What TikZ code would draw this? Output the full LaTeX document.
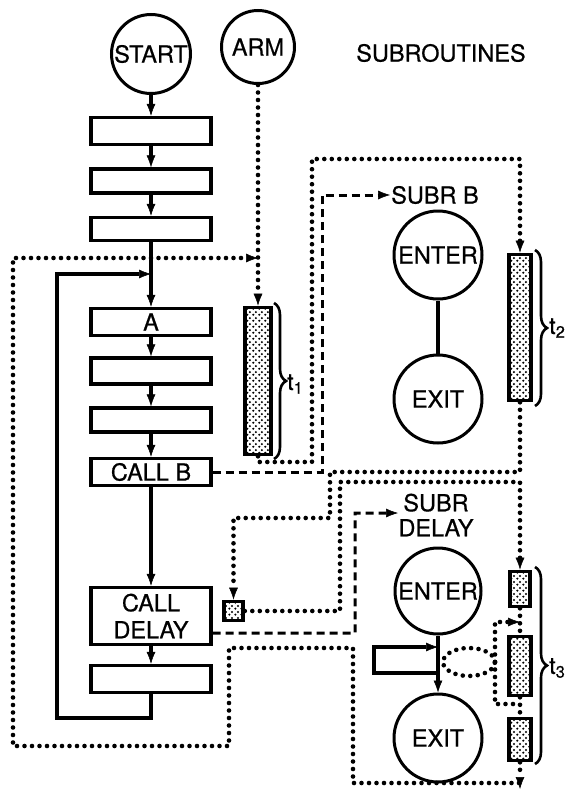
\documentclass[tikz,border=0pt]{standalone}
\usepackage{fontspec}
\setmainfont[FakeBold=0.6,AutoFakeBold=0.6]{TeX Gyre Heros}
\usetikzlibrary{arrows.meta,patterns.meta,decorations.pathreplacing,shapes.geometric,calc}

\tikzdeclarepattern{
  name=bigdots, type=uncolored,
  bounding box={(0pt,0pt) and (6pt,6pt)},
  tile size={(6pt,6pt)},
  code={\fill (1.5pt,1.5pt) circle (1.3pt); \fill (4.5pt,4.5pt) circle (1.3pt);}
}

\begin{document}
\begin{tikzpicture}[x=1pt,y=-1pt,
  font=\fontsize{23.5}{27}\selectfont\bfseries,
  box/.style={draw,line width=3.4pt,minimum width=120pt,inner sep=0pt},
  circ/.style={draw,circle,line width=3pt,inner sep=0pt},
  sline/.style={line width=3.4pt},
  tipa/.style={-{Latex[length=12pt,width=9pt,line width=0.5pt]}},
  dotl/.style={line width=4.6pt,line cap=round,dash pattern=on 0pt off 7.5pt},
  dsh/.style={line width=3pt,dash pattern=on 8pt off 5pt},
  bar/.style={draw,line width=3.6pt,pattern=bigdots,pattern color=black,inner sep=0pt},
  brc/.style={decorate,decoration={brace,amplitude=12pt},line width=2.6pt}
]
\useasboundingbox (0,0) rectangle (574,790);

% top
\node[circ,minimum size=79pt] (start) at (151,54) {START};
\node[circ,minimum size=73pt] (arm) at (258,47) {ARM};
\node (subr) at (441,53) {SUBROUTINES};

% main column
\node[box,minimum height=27pt] (b1) at (151,131) {};
\node[box,minimum height=24pt] (b2) at (151,181) {};
\node[box,minimum height=23pt] (b3) at (151,229) {};
\node[box,minimum height=27pt] (bA) at (151,322) {A};
\node[box,minimum height=26pt] (b5) at (151,371) {};
\node[box,minimum height=24pt] (b6) at (151,420) {};
\node[box,minimum height=27pt] (bCB) at (151,472) {CALL B};
\node[box,minimum height=57pt,align=center] (bCD) at (151,616) {CALL\\DELAY};
\node[box,minimum height=27pt] (b9) at (151,679) {};

\draw[sline,tipa] (start) -- (b1);
\draw[sline,tipa] (b1) -- (b2);
\draw[sline,tipa] (b2) -- (b3);
\draw[sline,tipa] (b3) -- (bA);
\draw[sline,tipa] (bA) -- (b5);
\draw[sline,tipa] (b5) -- (b6);
\draw[sline,tipa] (b6) -- (bCB);
\draw[sline,tipa] (bCB) -- (bCD);
\draw[sline,tipa] (bCD) -- (b9);
\coordinate (loopin) at (151,274);
\draw[sline,tipa] (b9.south) -- (151,718) -- (57,718) -- (57,274) -- (loopin);

% bars
\node[bar,minimum width=26pt,minimum height=147pt] (t1) at (258,381) {};
\node[bar,minimum width=22pt,minimum height=146pt] (t2) at (520,327.5) {};
\node[bar,minimum width=19pt,minimum height=19pt] (sq) at (233.5,611) {};
\node[bar,minimum width=20pt,minimum height=35pt] (t3a) at (520,589) {};
\node[bar,minimum width=22pt,minimum height=59pt] (t3b) at (520,666) {};
\node[bar,minimum width=22pt,minimum height=42pt] (t3c) at (520,739.5) {};

% braces
\draw[brc] (274,303) -- (274,459);
\node[anchor=west,inner sep=0pt] (l1) at (287,384) {t\textsubscript{1}};
\draw[brc] (535,250) -- (535,406);
\node[anchor=west,inner sep=0pt] (l2) at (549,328) {t\textsubscript{2}};
\draw[brc] (535,567) -- (535,764);
\node[anchor=west,inner sep=0pt] (l3) at (549,668) {t\textsubscript{3}};

% subroutine B
\node[inner sep=1pt] (subB) at (435,195) {SUBR B};
\node[circ,minimum size=88pt] (enB) at (438,255) {ENTER};
\node[circ,minimum size=88pt] (exB) at (438,399) {EXIT};
\draw[sline] (enB) -- (exB);

% subroutine DELAY
\node[inner sep=1pt,align=center,font=\fontsize{23.5}{25}\selectfont\bfseries] (subD) at (436,515) {SUBR\\DELAY};
\node[circ,minimum size=86pt] (enD) at (438,591) {ENTER};
\node[circ,minimum size=88pt] (exD) at (438,738) {EXIT};
\draw[sline,tipa] (enD) -- (exD);
\coordinate (lpa) at (438,673);
\coordinate (lpb) at (438,647);
\draw[sline,tipa] (lpa) -- (374,673) -- (374,647) -- (lpb);
\node[draw,ellipse,dotl,minimum width=52pt,minimum height=28pt,inner sep=0pt] (ell) at (469,662) {};

% dotted paths
\coordinate (armin) at (258,258);
\draw[dotl,tipa] (arm.south) -- (t1.north);
\draw[dotl,tipa] (519,783) -- (353,783) -- (353,648) -- (229,648) -- (229,746) -- (13,746) -- (13,258) -- (armin);
\draw[dotl,tipa] (t1.south) |- (312,462) -- (312,159) -| (t2.north);
\draw[dotl,tipa] (t2.south) |- (330,472) -- (330,518) -| (sq.north);
\draw[dotl,tipa] (sq.east) -- (340,611) -- (340,482) -| (t3a.north);
\draw[dotl] (t3a.south) -- (t3b.north);
\draw[dotl] (t3b.south) -- (t3c.north);
\coordinate (sidein) at (520,622);
\coordinate (sideout) at (520,704);
\draw[dotl,tipa] (495,662) -- (495,622) -- (sidein);
\draw[dotl] (495,662) -- (495,704) -- (sideout);
\coordinate (endd) at (520,789);
\draw[dotl,tipa] (t3c.south) -- (endd);

% dashed calls
\coordinate (sdin) at (398,513);
\draw[dsh,tipa] (bCB.east) -- (322,472) -- (322,195) -- (subB.west);
\draw[dsh,tipa] ($(bCD.south east)+(0,-13)$) -- (355,633) -- (355,513) -- (sdin);
\end{tikzpicture}
\end{document}
